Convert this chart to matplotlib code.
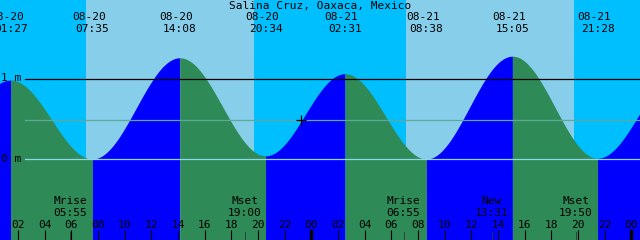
import numpy as np
import matplotlib
matplotlib.use("Agg")
import matplotlib.pyplot as plt
from matplotlib.transforms import blended_transform_factory

# times are hours after 08-20 00:00 (local)
station = "Salina Cruz, Oaxaca, Mexico"

# tide extremes (the first and last lie outside the window, they only shape the ends)
tide_h = [-4.6, 1.45, 7.583, 14.133, 20.567, 26.517, 32.633, 39.083, 45.467, 51.7]
tide_m = [0.05, 0.99, 0.00, 1.27, 0.04, 1.07, 0.00, 1.29, 0.01, 1.10]
tide_date = ["08-19", "08-20", "08-20", "08-20", "08-20", "08-21", "08-21", "08-21", "08-21", "08-22"]
tide_time = ["19:24", "01:27", "07:35", "14:08", "20:34", "02:31", "08:38", "15:05", "21:28", "03:42"]

# sun
sunrise_h = [7.08, 31.08]
sunset_h = [19.70, 43.70]

# moon
moon_h = [5.917, 19.0, 30.917, 37.517, 43.833]
moon_name = ["Mrise", "Mset", "Mrise", "New", "Mset"]
moon_time = ["05:55", "19:00", "06:55", "13:31", "19:50"]

mean_level = 0.49
now_h = 23.21

# window
px_per_h = 640 / 48
t0 = 8.7 / px_per_h
t1 = t0 + 48

night_c = "#00BFFF"
day_c = "#87CEEB"
flood_c = "#0000FF"
ebb_c = "#2E8B57"

fig = plt.figure(figsize=(6.4, 2.4), dpi=100)
fig.patch.set_facecolor(night_c)
ax = fig.add_axes([0, 0, 1, 1])
ax.set_facecolor(night_c)

# y axis in metres, 0 m at pixel row 159, 1 m at row 79.3
m_px = 79.7
y_bot = -(240 - 159) / m_px
y_top = 159 / m_px
ax.set_xlim(t0, t1)
ax.set_ylim(y_bot, y_top)
ax.set_xticks([])
ax.set_yticks([])
for sp in ax.spines.values():
    sp.set_visible(False)

for r, s in zip(sunrise_h, sunset_h):
    ax.axvspan(r, s, color=day_c, lw=0, zorder=0)

# tide curve, cosine between extremes, filled by flood / ebb
for i in range(len(tide_h) - 1):
    ta, tb = tide_h[i], tide_h[i + 1]
    ha, hb = tide_m[i], tide_m[i + 1]
    t = np.linspace(ta, tb, 200)
    f = (t - ta) / (tb - ta)
    h = ha + (hb - ha) * (1 - np.cos(np.pi * f)) / 2
    c = flood_c if hb > ha else ebb_c
    ax.fill_between(t, y_bot, h, color=c, lw=0, zorder=1)

def ypx(p):
    return 1 - p / 240

trans = blended_transform_factory(ax.transData, ax.transAxes)
fs = 8.0
mono = "DejaVu Sans Mono"

# datum lines
x_start = 25 / 640
ax.axhline(1.0, xmin=x_start, color="black", lw=0.9, zorder=3)
ax.axhline(mean_level, xmin=x_start, color="#5FA89A", lw=0.9, zorder=3)
ax.axhline(0.0, xmin=x_start, color="#8FD8EC", lw=0.9, zorder=3)
ax.text(0.001, ypx(78), "1 m", transform=ax.transAxes, fontsize=fs, family=mono,
        ha="left", va="center", zorder=4)
ax.text(0.001, ypx(158.5), "0 m", transform=ax.transAxes, fontsize=fs, family=mono,
        ha="left", va="center", zorder=4)

ax.plot([now_h], [mean_level], marker="+", color="black", ms=7, mew=0.9, zorder=4)

# title and tide labels
ax.text(0.5, ypx(5.5), station, transform=ax.transAxes, fontsize=fs, family=mono,
        ha="center", va="center", zorder=4)
for th, d, tm in zip(tide_h, tide_date, tide_time):
    if t0 - 3 < th < t1 + 3:
        ax.text(th - 0.25, ypx(17.5), d, transform=trans, fontsize=fs, family=mono,
                ha="center", va="center", zorder=4)
        ax.text(th, ypx(29), tm, transform=trans, fontsize=fs, family=mono,
                ha="center", va="center", zorder=4)

# moon labels and ticks
for mh, nm, tm in zip(moon_h, moon_name, moon_time):
    ax.text(mh, ypx(201.5), nm, transform=trans, fontsize=fs, family=mono,
            ha="center", va="center", zorder=4)
    ax.text(mh, ypx(213), tm, transform=trans, fontsize=fs, family=mono,
            ha="center", va="center", zorder=4)
    ax.plot([mh, mh], [ypx(232), 0], transform=trans, color="#333333", lw=0.6, zorder=4)

# hour ticks
for hr in range(2, 49, 2):
    lab = "%02d" % (hr % 24)
    ax.text(hr, ypx(225.5), lab, transform=trans, fontsize=fs, family=mono,
            ha="center", va="center", zorder=4)
    if hr % 24 == 0:
        ax.plot([hr, hr], [ypx(229), 0], transform=trans, color="black", lw=2.4,
                solid_capstyle="butt", zorder=4)
    else:
        ax.plot([hr, hr], [ypx(230), 0], transform=trans, color="black", lw=0.8,
                solid_capstyle="butt", zorder=4)

fig.savefig("out.png", dpi=100, facecolor=night_c)
